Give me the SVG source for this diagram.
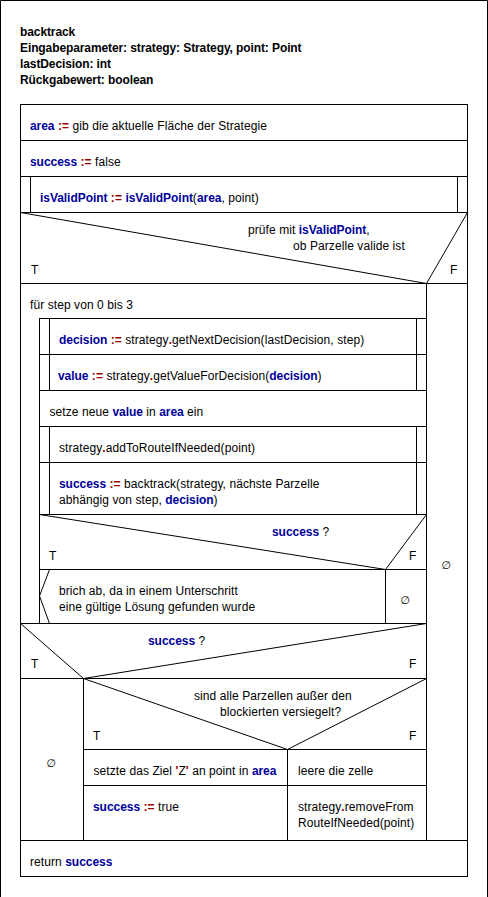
<svg xmlns="http://www.w3.org/2000/svg" width="488" height="897" viewBox="0 0 488 897">
<style>
.b{fill:#fff;stroke:#000;stroke-width:1}
.l{fill:none;stroke:#000;stroke-width:1}
text{font-family:"Liberation Sans",Arial,sans-serif;font-size:12px;fill:#000;letter-spacing:0.08px}
.h{font-weight:bold;letter-spacing:-0.1px}
.kw{font-weight:bold;fill:#000099;letter-spacing:-0.05px}
.op{font-weight:bold;fill:#990000}
.m{text-anchor:middle;font-family:"DejaVu Sans","Liberation Sans",sans-serif;font-size:11px}
</style>
<rect x="0" y="0" width="488" height="897" fill="#fff"/>
<path class="l" d="M0.5,897 V0.5 H487.5 V897"/>
<g id="header">
<text class="h" x="20" y="36">backtrack</text>
<text class="h" x="20" y="52">Eingabeparameter: strategy: Strategy, point: Point</text>
<text class="h" x="20" y="68">lastDecision: int</text>
<text class="h" x="20" y="84">Rückgabewert: boolean</text>
</g>
<g id="n_area">
<rect class="b" x="20.5" y="104.5" width="447" height="36"/>
<text x="30" y="130"><tspan class="kw">area</tspan> <tspan class="op">:=</tspan> gib die aktuelle Fläche der Strategie</text>
</g>
<g id="n_success_false">
<rect class="b" x="20.5" y="140.5" width="447" height="36"/>
<text x="30" y="166"><tspan class="kw">success</tspan> <tspan class="op">:=</tspan> false</text>
</g>
<g id="n_isvalid">
<rect class="b" x="20.5" y="176.5" width="447" height="36"/>
<path class="l" d="M30.5,176.5 V212.5 M457.5,176.5 V212.5"/>
<text x="40" y="202"><tspan class="kw">isValidPoint</tspan> <tspan class="op">:=</tspan> <tspan class="kw">isValidPoint</tspan>(<tspan class="kw">area</tspan>, point)</text>
</g>
<g id="n_if_valid">
<rect class="b" x="20.5" y="212.5" width="447" height="71"/>
<path class="l" d="M20.5,212.5 L426.5,283.5 L467.5,212.5"/>
<text x="248" y="234">prüfe mit <tspan class="kw">isValidPoint</tspan>,</text>
<text x="293" y="250">ob Parzelle valide ist</text>
<text x="31" y="274">T</text>
<text x="450" y="274">F</text>
</g>
<g id="n_if_valid_false">
<rect class="b" x="426.5" y="283.5" width="41" height="557"/>
<text class="m" x="446" y="569">∅</text>
</g>
<g id="n_loop">
<rect class="b" x="20.5" y="283.5" width="406" height="340"/>
<text x="30" y="309">für step von 0 bis 3</text>
</g>
<g id="n_decision">
<rect class="b" x="39.5" y="318.5" width="387" height="36"/>
<path class="l" d="M49.5,318.5 V354.5 M416.5,318.5 V354.5"/>
<text x="59" y="344"><tspan class="kw">decision</tspan> <tspan class="op">:=</tspan> strategy<tspan class="op">.</tspan>getNextDecision(lastDecision, step)</text>
</g>
<g id="n_value">
<rect class="b" x="39.5" y="354.5" width="387" height="36"/>
<path class="l" d="M49.5,354.5 V390.5 M416.5,354.5 V390.5"/>
<text x="58" y="380"><tspan class="kw">value</tspan> <tspan class="op">:=</tspan> strategy<tspan class="op">.</tspan>getValueForDecision(<tspan class="kw">decision</tspan>)</text>
</g>
<g id="n_setze">
<rect class="b" x="39.5" y="390.5" width="387" height="36"/>
<text x="49.5" y="416">setze neue <tspan class="kw">value</tspan> in <tspan class="kw">area</tspan> ein</text>
</g>
<g id="n_addroute">
<rect class="b" x="39.5" y="426.5" width="387" height="36"/>
<path class="l" d="M49.5,426.5 V462.5 M416.5,426.5 V462.5"/>
<text x="59" y="452">strategy<tspan class="op">.</tspan>addToRouteIfNeeded(point)</text>
</g>
<g id="n_recurse">
<rect class="b" x="39.5" y="462.5" width="387" height="52"/>
<path class="l" d="M49.5,462.5 V514.5 M416.5,462.5 V514.5"/>
<text x="59" y="488"><tspan class="kw">success</tspan> <tspan class="op">:=</tspan> backtrack(strategy, nächste Parzelle</text>
<text x="59" y="504">abhängig von step, <tspan class="kw">decision</tspan>)</text>
</g>
<g id="n_if_success_inner">
<rect class="b" x="39.5" y="514.5" width="387" height="55"/>
<path class="l" d="M39.5,514.5 L385.5,569.5 L426.5,514.5"/>
<text x="272" y="536"><tspan class="kw">success</tspan> ?</text>
<text x="49" y="560">T</text>
<text x="409" y="560">F</text>
</g>
<g id="n_exit">
<rect class="b" x="39.5" y="569.5" width="346" height="54"/>
<path class="l" d="M49.5,569.5 L39.5,596 L49.5,623.5"/>
<text x="59" y="595">brich ab, da in einem Unterschritt</text>
<text x="59" y="611">eine gültige Lösung gefunden wurde</text>
</g>
<g id="n_exit_false">
<rect class="b" x="385.5" y="569.5" width="41" height="54"/>
<text class="m" x="405" y="604">∅</text>
</g>
<g id="n_if_success">
<rect class="b" x="20.5" y="623.5" width="406" height="55"/>
<path class="l" d="M20.5,623.5 L83.5,678.5 L426.5,623.5"/>
<text x="148" y="645"><tspan class="kw">success</tspan> ?</text>
<text x="31" y="668">T</text>
<text x="409" y="668">F</text>
</g>
<g id="n_if_success_true">
<rect class="b" x="20.5" y="678.5" width="63" height="162"/>
<text class="m" x="51" y="767">∅</text>
</g>
<g id="n_if_sealed">
<rect class="b" x="83.5" y="678.5" width="343" height="71"/>
<path class="l" d="M83.5,678.5 L287.5,749.5 L426.5,678.5"/>
<text x="194" y="700">sind alle Parzellen außer den</text>
<text x="220" y="716">blockierten versiegelt?</text>
<text x="93" y="740">T</text>
<text x="409" y="740">F</text>
</g>
<g id="n_setziel">
<rect class="b" x="83.5" y="749.5" width="204" height="36"/>
<text x="93.5" y="775">setzte das Ziel <tspan class="op">'</tspan>Z<tspan class="op">'</tspan> an point in <tspan class="kw">area</tspan></text>
</g>
<g id="n_leere">
<rect class="b" x="287.5" y="749.5" width="139" height="36"/>
<text x="298" y="775">leere die zelle</text>
</g>
<g id="n_success_true">
<rect class="b" x="83.5" y="785.5" width="204" height="55"/>
<text x="93" y="811"><tspan class="kw">success</tspan> <tspan class="op">:=</tspan> true</text>
</g>
<g id="n_remove">
<rect class="b" x="287.5" y="785.5" width="139" height="55"/>
<text x="298" y="811">strategy<tspan class="op">.</tspan>removeFrom</text>
<text x="298" y="827">RouteIfNeeded(point)</text>
</g>
<g id="n_return">
<rect class="b" x="20.5" y="840.5" width="447" height="36"/>
<text x="30" y="866">return <tspan class="kw">success</tspan></text>
</g>
<g id="connectors"/>
</svg>
